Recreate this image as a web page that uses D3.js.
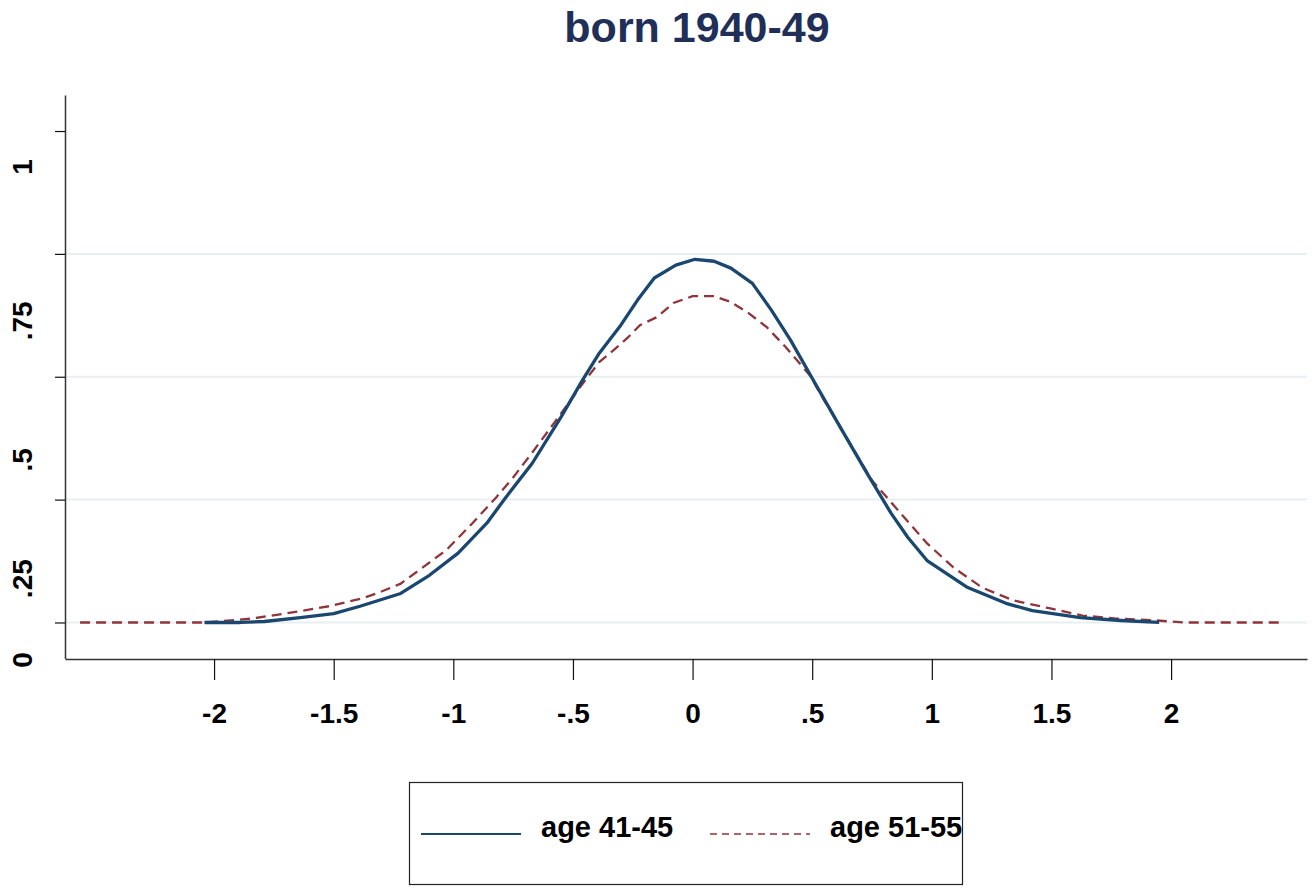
<!DOCTYPE html>
<html>
<head>
<meta charset="utf-8">
<script src="https://cdn.jsdelivr.net/npm/d3@7"></script>
<style>
  body { margin: 0; background: #fff; }
  svg { font-family: Arial, "Liberation Sans", Helvetica, sans-serif; }
</style>
</head>
<body>
<svg id="chart" width="1313" height="890"></svg>
<script>
// data
const title = 'born 1940-49'
const seriesNames = ['age 41-45', 'age 51-55']
const xTicks = [-2, -1.5, -1, -0.5, 0, 0.5, 1, 1.5, 2]
const yTicks = [0, 0.25, 0.5, 0.75, 1]
const yTickLabels = ['0', '.25', '.5', '.75', '1']

const age4145X = [-2.04, -1.89, -1.79, -1.64, -1.50, -1.39, -1.22, -1.10, -0.98, -0.86, -0.78, -0.67, -0.55, -0.46, -0.39, -0.30, -0.23, -0.16, -0.07, 0.01, 0.09, 0.16, 0.25, 0.33, 0.41, 0.50, 0.62, 0.73, 0.83, 0.90, 0.98, 1.15, 1.31, 1.42, 1.62, 1.79, 1.95]
const age4145Y = [0.000, 0.000, 0.002, 0.010, 0.018, 0.033, 0.059, 0.096, 0.141, 0.202, 0.255, 0.324, 0.418, 0.493, 0.548, 0.605, 0.656, 0.701, 0.727, 0.739, 0.735, 0.721, 0.690, 0.635, 0.574, 0.497, 0.395, 0.303, 0.222, 0.173, 0.126, 0.071, 0.039, 0.024, 0.010, 0.004, 0.000]

const age5155X = [-2.56, -2.04, -1.84, -1.68, -1.52, -1.38, -1.31, -1.22, -1.03, -0.92, -0.82, -0.75, -0.67, -0.58, -0.47, -0.39, -0.33, -0.27, -0.22, -0.15, -0.08, 0.00, 0.09, 0.16, 0.23, 0.31, 0.39, 0.49, 0.55, 0.65, 0.75, 0.87, 0.98, 1.09, 1.21, 1.34, 1.49, 1.63, 1.77, 1.94, 2.05, 2.45]
const age5155Y = [0.000, 0.000, 0.008, 0.020, 0.033, 0.049, 0.061, 0.079, 0.147, 0.202, 0.255, 0.295, 0.346, 0.405, 0.479, 0.530, 0.554, 0.580, 0.605, 0.621, 0.650, 0.664, 0.664, 0.652, 0.631, 0.601, 0.560, 0.503, 0.452, 0.371, 0.289, 0.222, 0.161, 0.112, 0.071, 0.045, 0.029, 0.014, 0.008, 0.004, 0.000, 0.000]

const blue = '#1a476f'
const maroon = '#90353b'

const svg = d3.select('#chart')

var x = d3.scaleLinear().domain([-2.623, 2.568]).range([65, 1307])
var y = d3.scaleLinear().domain([-0.0733, 1.0733]).range([658.5, 95])
// stata puts the rotated labels off their ticks; this pow scale follows them
var yLabel = d3.scalePow().exponent(1.3).domain([0, 1]).range([660, 167])

// gridlines
svg.append('g')
  .selectAll('line')
  .data(yTicks.filter(d => d < 1))
  .enter()
  .append('line')
  .attr('x1', x.range()[0])
  .attr('x2', x.range()[1])
  .attr('y1', d => y(d))
  .attr('y2', d => y(d))
  .attr('stroke', '#e8eff1')
  .attr('stroke-width', 2)

// y axis
var yAxis = svg.append('g')
  .attr('transform', 'translate(65,0)')
  .call(d3.axisLeft(y).tickValues(yTicks).tickSize(10).tickSizeOuter(0).tickFormat(''))
yAxis.select('.domain').attr('stroke', '#333').attr('stroke-width', 1.5)
yAxis.selectAll('.tick line').attr('stroke', '#111').attr('stroke-width', 1.2)

svg.append('g')
  .selectAll('text')
  .data(yTicks)
  .enter()
  .append('text')
  .attr('transform', d => 'translate(32,' + yLabel(d) + ') rotate(-90)')
  .attr('text-anchor', 'middle')
  .attr('font-size', 28)
  .attr('font-weight', 'bold')
  .attr('fill', '#000')
  .text((d, i) => yTickLabels[i])

// x axis
var fmt = d => String(d).replace(/^(-?)0\./, '$1.')
var xAxis = svg.append('g')
  .attr('transform', 'translate(0,659)')
  .call(d3.axisBottom(x).tickValues(xTicks).tickSize(21).tickSizeOuter(0).tickPadding(23).tickFormat(fmt))
xAxis.select('.domain').attr('stroke', '#333').attr('stroke-width', 1.5)
xAxis.selectAll('.tick line').attr('stroke', '#111').attr('stroke-width', 1.2)
xAxis.selectAll('.tick text')
  .attr('font-size', 28)
  .attr('font-weight', 'bold')
  .attr('fill', '#000')
  .attr('font-family', 'Arial, "Liberation Sans", sans-serif')

// curves
var line = d3.line().x(d => x(d[0])).y(d => y(d[1]))

svg.append('path')
  .datum(d3.zip(age5155X, age5155Y))
  .attr('d', line)
  .attr('fill', 'none')
  .attr('stroke', maroon)
  .attr('stroke-width', 2.3)
  .attr('stroke-dasharray', '10,6')

svg.append('path')
  .datum(d3.zip(age4145X, age4145Y))
  .attr('d', line)
  .attr('fill', 'none')
  .attr('stroke', blue)
  .attr('stroke-width', 3.3)
  .attr('stroke-linejoin', 'round')

// title
svg.append('text')
  .attr('x', 697)
  .attr('y', 42)
  .attr('text-anchor', 'middle')
  .attr('font-size', 43)
  .attr('font-weight', 'bold')
  .attr('fill', '#1f2f57')
  .text(title)

// legend
var legend = svg.append('g')
legend.append('rect')
  .attr('x', 409.5).attr('y', 782.5)
  .attr('width', 553).attr('height', 102)
  .attr('fill', '#fff')
  .attr('stroke', '#222')
  .attr('stroke-width', 1.2)

var items = [
  { name: seriesNames[0], color: blue, dash: null, w: 2, x0: 421 },
  { name: seriesNames[1], color: maroon, dash: '7,5', w: 1.5, x0: 710 },
]
items.forEach(function(it) {
  legend.append('line')
    .attr('x1', it.x0).attr('x2', it.x0 + 100)
    .attr('y1', 834).attr('y2', 834)
    .attr('stroke', it.color)
    .attr('stroke-width', it.w)
    .attr('stroke-dasharray', it.dash)
  legend.append('text')
    .attr('x', it.x0 + 120)
    .attr('y', 837)
    .attr('font-size', 29)
    .attr('font-weight', 'bold')
    .attr('fill', '#000')
    .text(it.name)
})
</script>
</body>
</html>
